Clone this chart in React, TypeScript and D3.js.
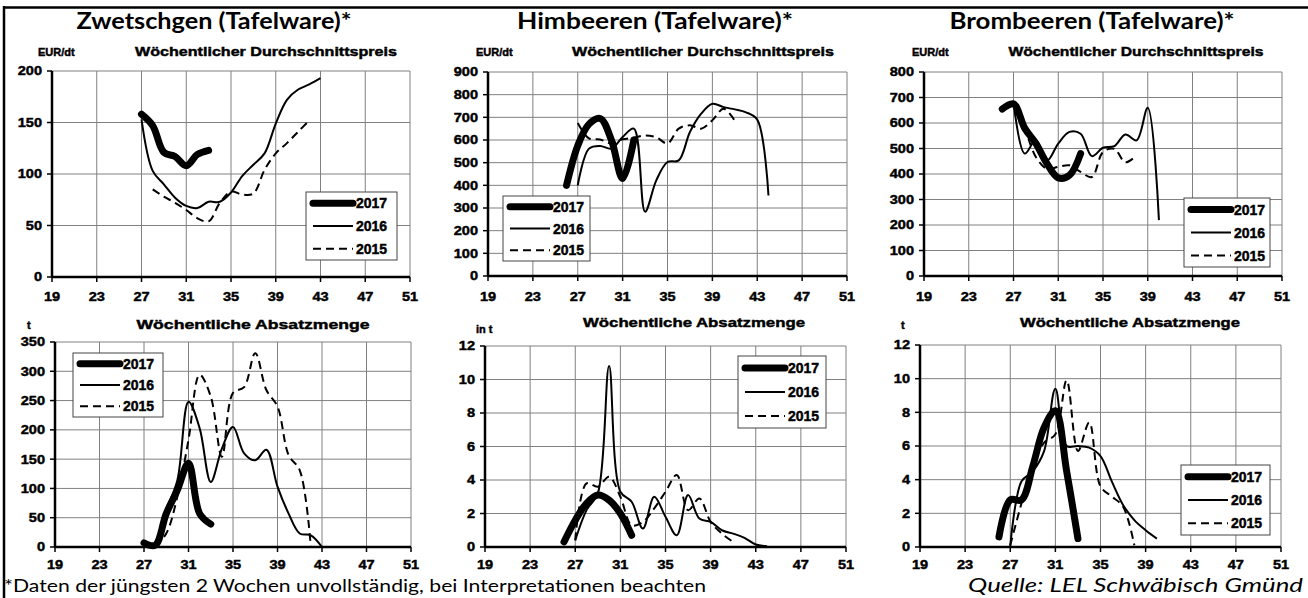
import React from 'react';
import * as d3 from 'd3';

// Kalenderwochen auf der x-Achse
const weekTicks = [19, 23, 27, 31, 35, 39, 43, 47, 51];
const years = ['2017', '2016', '2015'];

type Pt = [number, number];

// Zwetschgen – Preis EUR/dt
const zwPreis2017: Pt[] = [[27, 158], [28, 147], [29, 121], [30, 117], [31, 108], [32, 119], [33, 123]];
const zwPreis2016: Pt[] = [[27, 153], [28, 103], [29, 90], [30, 77], [31, 69], [32, 67], [33, 73], [34, 73], [35, 82], [36, 98], [37, 109], [38, 120], [39, 149], [40, 172], [41, 182], [42, 187], [43, 193]];
const zwPreis2015: Pt[] = [[28, 85], [29, 78], [30, 72], [31, 65], [32, 57], [33, 54], [34, 72], [35, 83], [36, 80], [37, 81], [38, 104], [39, 120], [40, 130], [41, 141], [42, 152]];

// Himbeeren – Preis EUR/dt
const hmPreis2017: Pt[] = [[26, 400], [27, 575], [28, 670], [29, 695], [30, 600], [31, 430], [32, 600]];
const hmPreis2016: Pt[] = [[27, 400], [28, 562], [29, 574], [30, 562], [31, 613], [32, 650], [33, 284], [34, 422], [35, 503], [36, 510], [37, 635], [38, 716], [39, 760], [40, 745], [41, 735], [42, 722], [43, 690], [44, 355]];
const hmPreis2015: Pt[] = [[27, 675], [28, 607], [29, 602], [30, 585], [31, 603], [32, 610], [33, 620], [34, 612], [35, 585], [36, 650], [37, 665], [38, 650], [39, 687], [40, 738], [41, 685]];

// Brombeeren – Preis EUR/dt
const brPreis2017: Pt[] = [[26, 655], [27, 675], [28, 580], [29, 520], [30, 440], [31, 385], [32, 395], [33, 480]];
const brPreis2016: Pt[] = [[27, 683], [28, 480], [29, 532], [30, 453], [31, 519], [32, 565], [33, 558], [34, 470], [35, 503], [36, 509], [37, 555], [38, 532], [39, 660], [40, 219]];
const brPreis2015: Pt[] = [[27, 680], [28, 580], [29, 467], [30, 420], [31, 428], [32, 434], [33, 408], [34, 388], [35, 486], [36, 499], [37, 446], [38, 473]];

// Zwetschgen – Menge t
const zwMenge2017: Pt[] = [[27, 7], [28, 3], [29, 57], [30, 97], [31, 143], [32, 57], [33, 39]];
const zwMenge2016: Pt[] = [[27, 3], [28, 1], [29, 63], [30, 114], [31, 248], [32, 203], [33, 111], [34, 168], [35, 205], [36, 160], [37, 148], [38, 166], [39, 103], [40, 57], [41, 23], [42, 20], [43, 0]];
const zwMenge2015: Pt[] = [[28, 1], [29, 23], [30, 86], [31, 183], [32, 294], [33, 257], [34, 154], [35, 263], [36, 273], [37, 331], [38, 268], [39, 240], [40, 157], [41, 131], [42, 0]];

// Himbeeren – Menge t
const hmMenge2017: Pt[] = [[26, 0.3], [27, 1.6], [28, 2.6], [29, 3.1], [30, 2.8], [31, 2.0], [32, 0.7]];
const hmMenge2016: Pt[] = [[27, 0.4], [28, 2.2], [29, 3.2], [30, 10.8], [31, 3.3], [32, 2.7], [33, 1.1], [34, 3.0], [35, 1.8], [36, 0.7], [37, 3.1], [38, 1.7], [39, 1.5], [40, 1.0], [41, 0.8], [42, 0.55], [43, 0.15], [44, 0.05]];
const hmMenge2015: Pt[] = [[27, 0.4], [28, 3.8], [29, 3.6], [30, 4.2], [31, 3.0], [32, 1.3], [33, 1.5], [34, 2.3], [35, 3.3], [36, 4.3], [37, 2.2], [38, 2.9], [39, 1.5], [40, 0.8], [41, 0.3]];

// Brombeeren – Menge t
const brMenge2017: Pt[] = [[26, 0.6], [27, 2.8], [28, 2.8], [29, 4.8], [30, 7.1], [31, 8.1], [32, 4.5], [33, 0.5]];
const brMenge2016: Pt[] = [[27, 0.05], [28, 3.9], [29, 4.5], [30, 5.7], [31, 9.4], [32, 6.0], [33, 6.0], [34, 5.9], [35, 5.4], [36, 3.9], [37, 2.5], [38, 1.6], [39, 1.0], [40, 0.5]];
const brMenge2015: Pt[] = [[27, 0.1], [28, 2.6], [29, 4.8], [30, 6.2], [31, 6.7], [32, 9.9], [33, 5.7], [34, 7.4], [35, 3.6], [36, 3.0], [37, 2.4], [38, 0.1]];

const lineWidths = [7, 2, 2];
const dashes = [undefined, undefined, '8,5'];
const gridColor = '#808080';
const tickFont = 'Arial, "Liberation Sans", sans-serif';
const titleFont = 'Lato, "Open Sans", sans-serif';
// etwas kräftiger, die Vorlage hat sehr fette Beschriftungen
const heavy = { stroke: '#000', strokeWidth: 0.45, paintOrder: 'stroke' } as const;

const panels = [
  { title: 'Zwetschgen (Tafelware)*', titleX: 214, titleW: 275, unit: 'EUR/dt', unitX: 38, unitY: 56,
    sub: 'Wöchentlicher Durchschnittspreis', subX: 266, subW: 262, subY: 56,
    x0: 52, x1: 410, y0: 71, y1: 277, yMax: 200, yStep: 50, lblY: 301,
    legend: { x: 306, y: 192, w: 91, h: 68 }, series: [zwPreis2017, zwPreis2016, zwPreis2015] },
  { title: 'Himbeeren (Tafelware)*', titleX: 655, titleW: 276, unit: 'EUR/dt', unitX: 476, unitY: 56,
    sub: 'Wöchentlicher Durchschnittspreis', subX: 703, subW: 262, subY: 56,
    x0: 488, x1: 847, y0: 72, y1: 276, yMax: 900, yStep: 100, lblY: 301,
    legend: { x: 503, y: 196, w: 87, h: 65 }, series: [hmPreis2017, hmPreis2016, hmPreis2015] },
  { title: 'Brombeeren (Tafelware)*', titleX: 1092, titleW: 285, unit: 'EUR/dt', unitX: 912, unitY: 56,
    sub: 'Wöchentlicher Durchschnittspreis', subX: 1136, subW: 255, subY: 56,
    x0: 924, x1: 1282, y0: 72, y1: 276, yMax: 800, yStep: 100, lblY: 301,
    legend: { x: 1184, y: 198, w: 86, h: 69 }, series: [brPreis2017, brPreis2016, brPreis2015] },
  { title: '', titleX: 0, titleW: 0, unit: 't', unitX: 27, unitY: 329,
    sub: 'Wöchentliche Absatzmenge', subX: 253, subW: 233, subY: 329,
    x0: 55, x1: 411, y0: 342, y1: 547, yMax: 350, yStep: 50, lblY: 569,
    legend: { x: 73, y: 353, w: 90, h: 64 }, series: [zwMenge2017, zwMenge2016, zwMenge2015] },
  { title: '', titleX: 0, titleW: 0, unit: 'in t', unitX: 476, unitY: 333,
    sub: 'Wöchentliche Absatzmenge', subX: 694, subW: 222, subY: 327,
    x0: 485, x1: 846, y0: 346, y1: 547, yMax: 12, yStep: 2, lblY: 569,
    legend: { x: 738, y: 356, w: 88, h: 72 }, series: [hmMenge2017, hmMenge2016, hmMenge2015] },
  { title: '', titleX: 0, titleW: 0, unit: 't', unitX: 901, unitY: 329,
    sub: 'Wöchentliche Absatzmenge', subX: 1130, subW: 220, subY: 327,
    x0: 920, x1: 1281, y0: 345, y1: 547, yMax: 12, yStep: 2, lblY: 569,
    legend: { x: 1181, y: 465, w: 89, h: 70 }, series: [brMenge2017, brMenge2016, brMenge2015] },
];

const Panel = ({ p }: { p: typeof panels[number] }) => {
  const x = d3.scaleLinear().domain([19, 51]).range([p.x0, p.x1]);
  const y = d3.scaleLinear().domain([0, p.yMax]).range([p.y1, p.y0]);
  const yTicks = d3.range(0, p.yMax + p.yStep / 2, p.yStep);
  const line = d3.line<Pt>()
    .x(d => x(d[0]))
    .y(d => y(d[1]))
    .curve(d3.curveCatmullRom.alpha(0.5));
  const lg = p.legend;

  return (
    <g>
      {p.title && (
        <text x={p.titleX} y={29} textAnchor="middle" fontFamily={titleFont} fontWeight="bold"
          fontSize={22} textLength={p.titleW} lengthAdjust="spacingAndGlyphs">{p.title}</text>
      )}
      <text x={p.unitX} y={p.unitY} fontFamily={tickFont} fontWeight="bold" fontSize={11} {...heavy}>{p.unit}</text>
      <text x={p.subX} y={p.subY} textAnchor="middle" fontFamily={tickFont} fontWeight="bold" fontSize={13.5}
        textLength={p.subW} lengthAdjust="spacingAndGlyphs" {...heavy}>{p.sub}</text>

      {/* Gitter */}
      {weekTicks.slice(1).map(w => (
        <line key={'v' + w} x1={x(w)} x2={x(w)} y1={p.y0} y2={p.y1} stroke={gridColor} strokeWidth={1} />
      ))}
      {yTicks.slice(1).map(v => (
        <line key={'h' + v} x1={p.x0} x2={p.x1} y1={y(v)} y2={y(v)} stroke={gridColor} strokeWidth={1} />
      ))}

      {/* Achsen */}
      <line x1={p.x0} x2={p.x0} y1={p.y0} y2={p.y1} stroke="#000" strokeWidth={2.5} />
      <line x1={p.x0} x2={p.x1} y1={p.y1} y2={p.y1} stroke="#000" strokeWidth={2.5} />
      {yTicks.map(v => (
        <g key={'yt' + v}>
          <line x1={p.x0 - 5} x2={p.x0} y1={y(v)} y2={y(v)} stroke="#000" strokeWidth={1.5} />
          <text x={p.x0 - 10} y={y(v) + 4.5} textAnchor="end" fontFamily={tickFont} fontWeight="bold"
            fontSize={13} {...heavy}
            transform={`translate(${p.x0 - 10},0) scale(1.12,1) translate(${-(p.x0 - 10)},0)`}>{v}</text>
        </g>
      ))}
      {weekTicks.map(w => (
        <g key={'xt' + w}>
          <line x1={x(w)} x2={x(w)} y1={p.y1} y2={p.y1 + 5} stroke="#000" strokeWidth={1.5} />
          <text x={x(w)} y={p.lblY} textAnchor="middle" fontFamily={tickFont} fontWeight="bold"
            fontSize={13} {...heavy}
            transform={`translate(${x(w)},0) scale(1.12,1) translate(${-x(w)},0)`}>{w}</text>
        </g>
      ))}

      {/* Kurven */}
      {p.series.map((s, i) => (
        <path key={'s' + i} d={line(s) ?? ''} fill="none" stroke="#000" strokeWidth={lineWidths[i]}
          strokeDasharray={dashes[i]} strokeLinecap={i === 0 ? 'round' : 'butt'} strokeLinejoin="round" />
      )).reverse()}

      {/* Legende */}
      <rect x={lg.x} y={lg.y} width={lg.w} height={lg.h} fill="#fff" stroke="#444" strokeWidth={1} />
      {years.map((yr, i) => {
        const ry = lg.y + (lg.h * (i + 0.5)) / 3;
        return (
          <g key={'l' + yr}>
            <line x1={lg.x + 7} x2={lg.x + 47} y1={ry} y2={ry} stroke="#000" strokeWidth={lineWidths[i]}
              strokeDasharray={dashes[i]} strokeLinecap={i === 0 ? 'round' : 'butt'} />
            <text x={lg.x + 50} y={ry + 5} fontFamily={tickFont} fontWeight="bold" fontSize={14} {...heavy}>{yr}</text>
          </g>
        );
      })}
    </g>
  );
};

export default function App() {
  return (
    <svg width={1308} height={598} style={{ position: 'absolute', left: 0, top: 0, background: '#fff' }}>
      <rect x={0} y={0} width={1308} height={598} fill="#fff" />
      <line x1={3} x2={1308} y1={7.5} y2={7.5} stroke="#000" strokeWidth={2.5} />
      <line x1={4} x2={4} y1={6} y2={598} stroke="#000" strokeWidth={2.5} />
      {panels.map((p, i) => <Panel key={i} p={p} />)}
      <text x={4} y={592} fontFamily={titleFont} fontSize={18} textLength={702}
        lengthAdjust="spacingAndGlyphs">*Daten der jüngsten 2 Wochen unvollständig, bei Interpretationen beachten</text>
      <text x={968} y={592} fontFamily={titleFont} fontStyle="italic" fontSize={19} textLength={335}
        lengthAdjust="spacingAndGlyphs">Quelle: LEL Schwäbisch Gmünd</text>
    </svg>
  );
}
